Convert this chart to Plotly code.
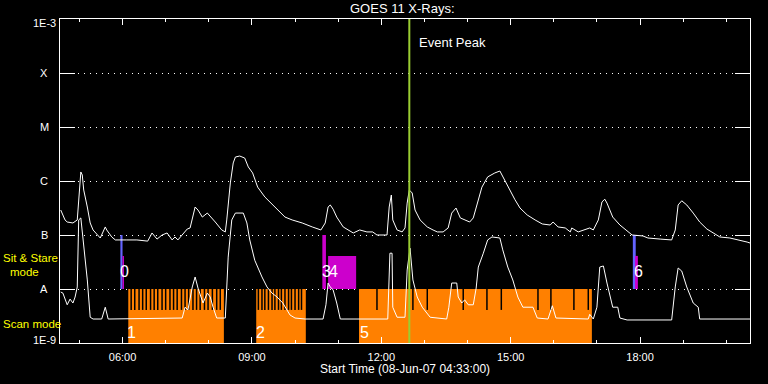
import math
import plotly.graph_objects as go

DAY = "2007-06-08 "

# ---- GOES long channel (1-8 A) ----
long_t = ["04:34","04:40","04:43","04:51","04:57","04:59","05:02","05:04","05:06","05:11",
          "05:15","05:19","05:29","05:36","05:38","05:45","05:50","06:06","06:20","06:35",
          "06:41","06:48","06:55","07:02","07:09","07:13","07:17","07:30","07:34","07:41",
          "07:45","07:51","07:58","08:09","08:18","08:23","08:25","08:30","08:34","08:37",
          "08:43","08:50","08:55","09:01","09:08","09:18","09:32","09:46","09:56","10:10",
          "10:24","10:36","10:42","10:46","10:49","10:53","10:58","11:07","11:21","11:30",
          "11:40","11:48","11:54","12:08","12:11","12:14","12:16","12:22","12:29","12:33",
          "12:36","12:39","12:43","12:47","12:54","13:04","13:12","13:18","13:26","13:33",
          "13:38","13:44","13:50","13:56","14:03","14:08","14:15","14:20","14:28","14:38",
          "14:45","14:48","14:56","15:06","15:13","15:23","15:34","15:44","15:55","15:59",
          "16:06","16:16","16:23","16:25","16:34","16:43","16:50","16:55","17:02","17:07",
          "17:11","17:14","17:22","17:32","17:42","17:49","18:04","18:11","18:28","18:44",
          "18:49","18:53","18:58","19:05","19:14","19:23","19:33","19:42","19:51","20:05",
          "20:19","20:29","20:33"]
long_f = [2.9e-7,1.9e-7,1.74e-7,1.67e-7,1.9e-7,4.3e-7,1.47e-6,1.29e-6,6.8e-7,3.3e-7,
          1.67e-7,1.24e-7,8.8e-8,1.41e-7,1.24e-7,9.2e-8,8.1e-8,8.1e-8,8.1e-8,7.7e-8,
          1.09e-7,8.4e-8,1.0e-7,1.09e-7,8.1e-8,9.2e-8,8.1e-8,1.29e-7,1.35e-7,3.3e-7,
          2.9e-7,2.15e-7,2.55e-7,1.74e-7,1.24e-7,1.14e-7,1.9e-7,9.2e-7,2.16e-6,2.78e-6,
          2.9e-6,2.66e-6,1.82e-6,1.41e-6,7.7e-7,5.06e-7,3.3e-7,2.15e-7,1.9e-7,1.67e-7,
          1.41e-7,1.24e-7,1.67e-7,3.3e-7,3.6e-7,3.0e-7,2.15e-7,1.41e-7,1.09e-7,1.24e-7,
          1.14e-7,1.14e-7,1.0e-7,1.0e-7,3.3e-7,5.5e-7,1.9e-7,1.24e-7,1.14e-7,1.35e-7,
          3.9e-7,6.8e-7,6.0e-7,2.9e-7,1.9e-7,1.41e-7,1.24e-7,1.14e-7,1.14e-7,1.35e-7,
          2.55e-7,3.16e-7,2.07e-7,1.9e-7,1.74e-7,2.07e-7,4.5e-7,7.7e-7,1.19e-6,1.41e-6,
          1.53e-6,1.29e-6,7.7e-7,4.5e-7,3.16e-7,2.35e-7,1.9e-7,1.6e-7,1.53e-7,1.74e-7,
          1.41e-7,1.35e-7,1.14e-7,1.35e-7,1.14e-7,1.24e-7,1.35e-7,1.24e-7,1.9e-7,4.1e-7,
          4.6e-7,3.9e-7,2.15e-7,1.53e-7,1.19e-7,1.0e-7,9.6e-8,8.8e-8,8.4e-8,8.1e-8,
          1.24e-7,3.6e-7,4.3e-7,3.6e-7,2.55e-7,1.74e-7,1.29e-7,1.09e-7,9.2e-8,8.8e-8,
          8.1e-8,7.4e-8,7.1e-8]

# ---- GOES short channel (0.5-4 A) ----
short_t = ["04:34","04:37","04:43","04:47","04:51","04:54","04:57","04:59","05:02","05:05",
           "05:11","05:15","05:19","05:31","05:36","05:40","07:23","07:27","07:31","07:37",
           "07:41","07:45","07:52","07:58","08:02","08:06","08:11","08:23","08:27","08:32",
           "08:37","08:48","08:53","08:57","09:04","09:14","09:21","09:28","09:35","09:43",
           "09:53","10:00","10:14","10:39","10:43","10:46","10:49","10:53","10:58","11:03",
           "12:09","12:12","12:15","12:16","12:22","12:33","12:36","12:40","12:44","12:50",
           "12:57","13:08","13:31","13:34","13:38","13:45","13:47","13:52","13:56","14:01",
           "14:08","14:12","14:15","14:22","14:28","14:34","14:45","14:49","14:56","15:03",
           "15:10","15:17","15:31","15:37","15:52","15:58","16:03","16:48","16:50","16:55",
           "17:00","17:04","17:09","17:14","17:22","17:29","17:32","17:42","18:44","18:49",
           "18:53","18:58","19:05","19:14","19:21","19:23","20:33"]
short_f = [8.8e-9,8.4e-9,5.1e-9,6.5e-9,5.5e-9,7.1e-9,1.09e-8,1.9e-7,2.07e-7,8.1e-8,
           1.47e-8,3.0e-9,2.78e-9,2.78e-9,4.6e-9,2.78e-9,2.9e-9,4.6e-9,4.1e-9,1.09e-8,
           1.67e-8,1.04e-8,5.5e-9,8.4e-9,7.1e-9,4.6e-9,2.9e-9,2.9e-9,3.9e-8,1.9e-7,
           2.55e-7,2.55e-7,1.67e-7,8.1e-8,3.4e-8,1.67e-8,1.09e-8,8.4e-9,7.1e-9,5.5e-9,
           3.3e-9,2.9e-9,2.78e-9,2.78e-9,5.1e-9,1.29e-8,1.09e-8,9.6e-9,5.5e-9,2.78e-9,
           2.78e-9,4.6e-8,4.6e-8,4.6e-9,3.0e-9,3.0e-9,2.25e-8,5.7e-8,1.47e-8,7.1e-9,
           4.6e-9,3.0e-9,2.78e-9,4.6e-9,1.29e-8,1.29e-8,7.1e-9,5.5e-9,6.3e-9,5.1e-9,
           5.1e-9,1.04e-8,2.55e-8,4.6e-8,8.1e-8,9.2e-8,8.8e-8,5.3e-8,2.55e-8,1.47e-8,
           7.1e-9,4.6e-9,4.6e-9,2.9e-9,2.78e-9,4.9e-9,2.9e-9,2.78e-9,3.4e-9,2.78e-9,
           4.6e-9,2.55e-8,2.67e-8,1.29e-8,4.6e-9,4.6e-9,2.9e-9,2.67e-9,2.67e-9,1.09e-8,
           2.45e-8,2.15e-8,1.09e-8,5.5e-9,4.6e-9,2.78e-9,2.78e-9]

# ---- scan mode periods ----
scan_start = ["06:08", "09:06", "11:29"]
scan_end = ["08:21", "10:15", "16:53"]
scan_label = ["1", "2", "5"]
scan_label_t = ["06:13", "09:12", "11:36"]
scan_gaps = ["06:12","06:17","06:23","06:28","06:33","06:39","06:44","06:49","06:55","07:00",
             "07:06","07:11","07:16","07:22","07:27","07:32","07:38","07:43","07:48","07:54",
             "07:59","08:05","08:11","08:16",
             "09:09","09:14","09:18","09:23","09:28","09:32","09:37","09:41","09:46","09:51",
             "09:55","10:00","10:05","10:09",
             "11:54","12:44","13:04","13:54","14:27","14:47","15:38","15:56","16:28","16:48"]

# ---- sit & stare periods ----
ss_start = ["05:57", "06:00", "10:38", "10:46", "17:50", "17:53"]
ss_end = ["06:00", "06:02", "10:43", "11:25", "17:54", "17:57"]
ss_top = [1e-7, 4.1e-8, 1e-7, 4.1e-8, 1e-7, 4.1e-8]
ss_kind = ["a", "b", "b", "b", "a", "b"]
ss_label = ["0", "3", "4", "6"]
ss_label_t = ["06:03", "10:44", "10:53", "17:58"]

peak_t = "12:39"

xtick_labels = ["06:00", "09:00", "12:00", "15:00", "18:00"]
class_levels = [1e-9, 1e-8, 1e-7, 1e-6, 1e-5, 1e-4, 1e-3]
class_names = ["1E-9", "A", "B", "C", "M", "X", "1E-3"]

A_LEVEL = 1e-8
BOTTOM = 1e-9
GAP_BOTTOM = 4.1e-9


def T(hm):
    return DAY + hm


ORANGE = "#ff8000"
KIND_COLOR = {"a": "#6464ff", "b": "#cc00cc"}
FONT = "Liberation Sans"

fig = go.Figure()


def rect(t0, t1, lo, hi, color):
    fig.add_trace(go.Scatter(
        x=[T(t0), T(t1), T(t1), T(t0), T(t0)], y=[lo, lo, hi, hi, lo],
        mode="lines", fill="toself", fillcolor=color, line=dict(width=0, color=color),
        hoverinfo="skip", showlegend=False))


for s, e in zip(scan_start, scan_end):
    rect(s, e, BOTTOM, A_LEVEL, ORANGE)

gx, gy = [], []
for t in scan_gaps:
    gx += [T(t), T(t), None]
    gy += [A_LEVEL, GAP_BOTTOM, None]
fig.add_trace(go.Scatter(x=gx, y=gy, mode="lines", line=dict(color="black", width=1.5),
                         hoverinfo="skip", showlegend=False))

for s, e, top, k in zip(ss_start, ss_end, ss_top, ss_kind):
    rect(s, e, A_LEVEL, top, KIND_COLOR[k])

fig.add_trace(go.Scatter(x=[T(t) for t in short_t], y=short_f, mode="lines",
                         line=dict(color="white", width=1), showlegend=False))
fig.add_trace(go.Scatter(x=[T(t) for t in long_t], y=long_f, mode="lines",
                         line=dict(color="white", width=1), showlegend=False))

fig.add_trace(go.Scatter(x=[T(peak_t), T(peak_t)], y=[1e-9, 1e-3], mode="lines",
                         line=dict(color="#9acd32", width=2), showlegend=False))

fig.update_layout(
    width=768, height=384, paper_bgcolor="black", plot_bgcolor="black",
    margin=dict(l=60, r=18, t=19, b=41), showlegend=False,
    font=dict(family=FONT, color="white", size=11),
)
fig.update_xaxes(
    type="date", range=[T("04:33"), T("20:33")],
    tickvals=[T(h) for h in xtick_labels], ticktext=xtick_labels,
    ticks="inside", ticklen=6, tickcolor="white", tickwidth=1,
    showline=True, linecolor="white", linewidth=1, mirror="ticks",
    showgrid=False, zeroline=False, tickfont=dict(size=11, color="white"),
    ticklabelstandoff=4,
    minor=dict(ticks="inside", ticklen=3, tickcolor="white", dtick=3600000,
               tick0=T("05:00"), showgrid=False),
)
fig.update_yaxes(
    type="log", range=[-9, -3], tickvals=class_levels, showticklabels=False,
    ticks="inside", ticklen=15, tickcolor="white", tickwidth=1,
    showline=True, linecolor="white", linewidth=1, mirror="ticks",
    showgrid=True, gridcolor="white", gridwidth=1, griddash="1px,5px", zeroline=False,
)

ann = []
for lv, name in zip(class_levels, class_names):
    if name.startswith("1E"):
        ann.append(dict(x=0, xref="paper", y=math.log10(lv), yref="y", text=name,
                        xanchor="right", xshift=-2, yshift=(-4 if lv == 1e-3 else 3),
                        showarrow=False, font=dict(size=11)))
    else:
        ann.append(dict(x=0, xref="paper", y=math.log10(lv), yref="y", text=name,
                        xanchor="center", xshift=-16, showarrow=False, font=dict(size=11)))

ann.append(dict(x=0.4964, xref="paper", y=1.031, yref="paper", text="GOES 11 X-Rays:",
                showarrow=False, font=dict(size=13), yanchor="middle"))
ann.append(dict(x=0.5, xref="paper", y=-0.08, yref="paper",
                text="Start Time (08-Jun-07 04:33:00)", showarrow=False,
                font=dict(size=12), yanchor="middle"))
ann.append(dict(x=T("12:50"), xref="x", y=-3.444, yref="y", text="Event Peak",
                xanchor="left", showarrow=False, font=dict(size=13)))
ann.append(dict(x=0, xref="paper", xshift=-59, xanchor="left", y=-7.43, yref="y",
                text="Sit & Stare", showarrow=False, font=dict(size=11.5, color="yellow")))
ann.append(dict(x=0, xref="paper", xshift=-36, xanchor="center", y=-7.68, yref="y",
                text="mode", showarrow=False, font=dict(size=11.5, color="yellow")))
ann.append(dict(x=0, xref="paper", xshift=-59, xanchor="left", y=-8.648, yref="y",
                text="Scan mode", showarrow=False, font=dict(size=11.5, color="yellow")))
for lab, t in zip(scan_label, scan_label_t):
    ann.append(dict(x=T(t), xref="x", y=-8.806, yref="y", text=lab, showarrow=False,
                    font=dict(size=16)))
for lab, t in zip(ss_label, ss_label_t):
    ann.append(dict(x=T(t), xref="x", y=-7.685, yref="y", text=lab, showarrow=False,
                    font=dict(size=16)))
fig.update_layout(annotations=ann)

fig.write_html("out.html", config={"displayModeBar": False},
               post_script="document.body.style.margin='0';document.body.style.overflow='hidden';")
